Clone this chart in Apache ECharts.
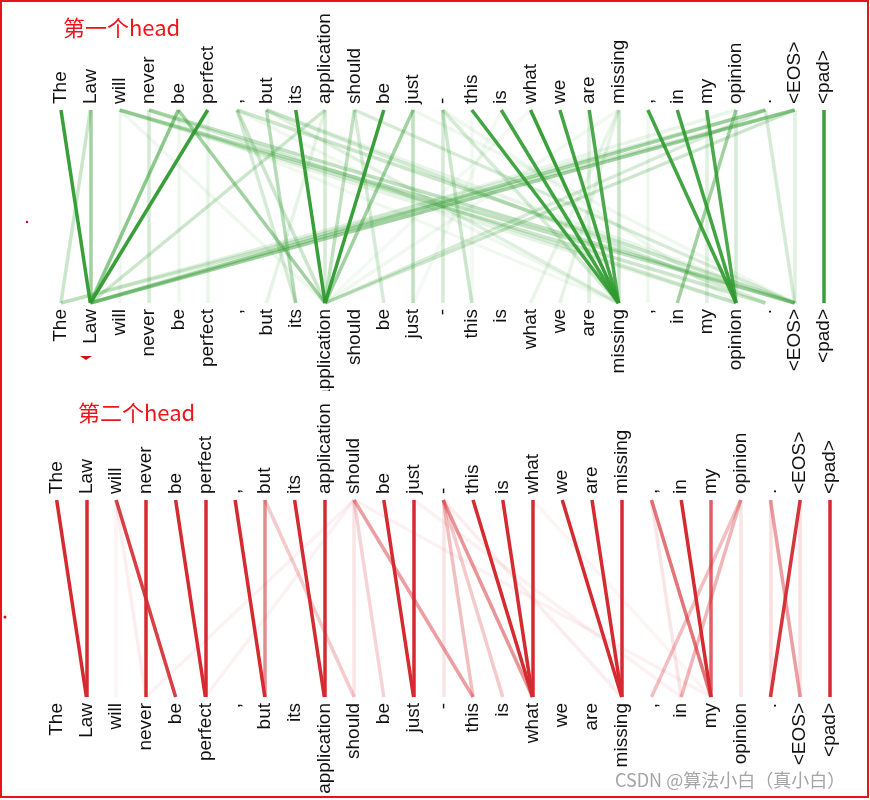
<!DOCTYPE html>
<html>
<head>
<meta charset="utf-8">
<script src="https://cdn.jsdelivr.net/npm/echarts@6/dist/echarts.min.js"></script>
<style>
html,body{margin:0;padding:0;background:#fff;}
#chart{width:870px;height:800px;}
</style>
</head>
<body>
<div id="chart"></div>
<script>
// Tokens (same sentence for source/top and target/bottom rows)
const tokens = ['The','Law','will','never','be','perfect',',','but','its','application','should','be','just','-','this','is','what','we','are','missing',',','in','my','opinion','.','<EOS>','<pad>'];

const title1 = '第一个head';
const title2 = '第二个head';
const watermark = 'CSDN @算法小白（真小白）';

// Attention links for head 1: [top token index, bottom token index, weight]
const head1Links = [
  [0,1,0.95],[1,1,0.45],[1,0,0.25],[2,2,0.08],[2,25,0.3],[2,24,0.25],[2,23,0.12],
  [3,3,0.2],[3,25,0.3],[3,23,0.2],[4,1,0.55],[4,9,0.45],[5,1,0.95],[5,5,0.1],
  [6,9,0.25],[6,25,0.25],[6,8,0.2],[7,8,0.35],[7,24,0.2],[7,19,0.15],
  [8,9,0.95],[9,9,0.2],[9,1,0.25],[9,7,0.12],[10,9,0.3],[10,11,0.2],[10,25,0.2],
  [11,9,0.95],[12,9,0.45],[12,12,0.3],[13,13,0.2],[13,14,0.25],[13,19,0.2],
  [14,19,0.9],[15,19,0.9],[16,19,0.95],[17,19,0.9],[18,19,0.85],[18,18,0.15],
  [19,19,0.25],[19,17,0.12],[19,16,0.1],[20,23,0.9],[20,20,0.08],[21,23,0.9],
  [22,23,0.85],[22,22,0.15],[23,21,0.45],[23,23,0.2],[24,1,0.4],[24,9,0.2],
  [24,0,0.15],[24,25,0.2],[25,1,0.45],[25,0,0.2],[25,9,0.25],[25,25,0.15],[26,26,0.95],
  [2,9,0.08],[3,19,0.07],[6,19,0.08],[7,25,0.1],[13,23,0.08],[16,9,0.06],
  [19,9,0.07],[23,1,0.1],[12,25,0.08],[4,4,0.08],[14,14,0.06],[15,12,0.06]
];

// Attention links for head 2
const head2Links = [
  [0,1,1],[1,1,1],[2,4,0.9],[2,3,0.08],[2,2,0.05],[3,3,1],[4,5,1],[5,5,1],
  [6,7,1],[7,7,0.55],[7,10,0.25],[8,9,1],[9,9,1],[10,11,0.2],[10,10,0.12],
  [10,14,0.45],[10,3,0.06],[10,5,0.06],[11,12,1],[12,12,1],[12,21,0.06],
  [13,16,0.5],[13,14,0.3],[13,15,0.25],[13,13,0.12],[13,19,0.08],
  [14,16,1],[15,16,1],[16,16,1],[16,22,0.05],[10,22,0.06],
  [17,19,1],[18,19,1],[19,19,1],[20,22,0.65],[20,21,0.12],[21,22,1],[22,22,0.75],
  [23,20,0.3],[23,21,0.35],[23,23,0.12],[24,25,0.45],[24,24,0.15],[25,24,0.95],
  [25,25,0.15],[26,26,1]
];

const greenColor = '#2e9a2e';
const redColor = '#d42a30';

function toLineData(links) {
  return links.slice().sort((a, b) => a[2] - b[2]).map(function (l) {
    return { coords: [[l[0], 1], [l[1], 0]], lineStyle: { opacity: l[2] } };
  });
}

const labelStyle = {
  rotate: 90, margin: 6, fontSize: 19, interval: 0,
  fontFamily: '"Liberation Sans", Arial, sans-serif', color: '#111'
};

function xAxisDef(grid, pos) {
  return {
    type: 'category', gridIndex: grid, position: pos, data: tokens, boundaryGap: true,
    axisLine: { show: false }, axisTick: { show: false }, splitLine: { show: false },
    axisLabel: labelStyle
  };
}

const chart = echarts.init(document.getElementById('chart'), null, { renderer: 'canvas' });
chart.setOption({
  animation: false,
  backgroundColor: '#fff',
  grid: [
    { left: 46.3, width: 792.4, top: 110, height: 193 },
    { left: 41.8, width: 803.0, top: 500, height: 197 }
  ],
  xAxis: [xAxisDef(0, 'top'), xAxisDef(0, 'bottom'), xAxisDef(1, 'top'), xAxisDef(1, 'bottom')],
  yAxis: [
    { type: 'value', gridIndex: 0, min: 0, max: 1, show: false },
    { type: 'value', gridIndex: 1, min: 0, max: 1, show: false }
  ],
  series: [
    {
      type: 'lines', coordinateSystem: 'cartesian2d', xAxisIndex: 0, yAxisIndex: 0,
      silent: true, lineStyle: { color: greenColor, width: 3.5, curveness: 0 },
      data: toLineData(head1Links)
    },
    {
      type: 'lines', coordinateSystem: 'cartesian2d', xAxisIndex: 2, yAxisIndex: 1,
      silent: true, lineStyle: { color: redColor, width: 3.5, curveness: 0 },
      data: toLineData(head2Links)
    }
  ],
  graphic: [
    // the reference is a cropped screenshot: the first panel is cut off just above the second one
    { type: 'rect', shape: { x: 300, y: 391, width: 60, height: 10 }, style: { fill: '#fff' }, silent: true, z: 100 },
    { type: 'rect', shape: { x: 1, y: 1, width: 867, height: 796 }, style: { fill: 'none', stroke: '#e8141b', lineWidth: 2 }, silent: true, z: 101 },
    { type: 'text', x: 63, y: 28, style: { text: title1, fill: '#f0141b', fontSize: 22, fontFamily: '"Noto Sans CJK SC", sans-serif', verticalAlign: 'middle' } },
    { type: 'text', x: 78, y: 413, z: 102, style: { text: title2, fill: '#f0141b', fontSize: 22, fontFamily: '"Noto Sans CJK SC", sans-serif', verticalAlign: 'middle' } },
    { type: 'text', x: 615, y: 780, style: { text: watermark, fill: '#a5a5a5', fontSize: 18, fontFamily: '"Noto Sans CJK SC", sans-serif', verticalAlign: 'middle' } },
    { type: 'circle', shape: { cx: 27, cy: 222, r: 1.2 }, style: { fill: '#c0101a' } },
    { type: 'circle', shape: { cx: 5, cy: 617, r: 1.5 }, style: { fill: '#c0101a' } },
    { type: 'polygon', shape: { points: [[80, 356], [92, 356], [86, 360]] }, style: { fill: '#d0101a' } }
  ]
});
</script>
</body>
</html>
